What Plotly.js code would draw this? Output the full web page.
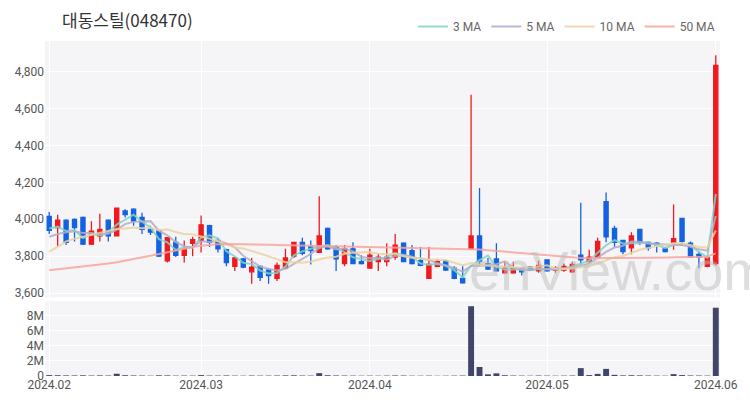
<!DOCTYPE html>
<html>
<head>
<meta charset="utf-8">
<script src="https://cdn.plot.ly/plotly-3.0.1.min.js"></script>
<style>html,body{margin:0;padding:0;background:#fff;}#chart{width:750px;height:400px;}</style>
</head>
<body>
<div id="chart"></div>
<script>
const dates = [
 '2024-02-02','2024-02-05','2024-02-06','2024-02-07','2024-02-08','2024-02-13','2024-02-14','2024-02-15','2024-02-16','2024-02-19',
 '2024-02-20','2024-02-21','2024-02-22','2024-02-23','2024-02-26','2024-02-27','2024-02-28','2024-02-29',
 '2024-03-04','2024-03-05','2024-03-06','2024-03-07','2024-03-08','2024-03-11','2024-03-12','2024-03-13','2024-03-14','2024-03-15',
 '2024-03-18','2024-03-19','2024-03-20','2024-03-21','2024-03-22','2024-03-25','2024-03-26','2024-03-27','2024-03-28','2024-03-29',
 '2024-04-01','2024-04-02','2024-04-03','2024-04-04','2024-04-05','2024-04-08','2024-04-09','2024-04-11','2024-04-12','2024-04-15',
 '2024-04-16','2024-04-17','2024-04-18','2024-04-19','2024-04-22','2024-04-23','2024-04-24','2024-04-25','2024-04-26','2024-04-29','2024-04-30',
 '2024-05-02','2024-05-03','2024-05-07','2024-05-08','2024-05-09','2024-05-10','2024-05-13','2024-05-14','2024-05-16','2024-05-17',
 '2024-05-20','2024-05-21','2024-05-22','2024-05-23','2024-05-24','2024-05-27','2024-05-28','2024-05-29','2024-05-30','2024-05-31',
 '2024-06-03'
];
const openP = [4015,3955,3995,4000,4010,3865,3910,3995,3910,4045,4055,4010,3945,3940,3775,3875,3805,3870,3885,3965,
 3885,3835,3745,3785,3715,3745,3725,3680,3735,3800,3875,3850,3820,3950,3850,3760,3840,3770,3735,3770,
 3770,3795,3870,3830,3775,3680,3745,3775,3735,3680,3840,3910,3760,3785,3710,3710,3735,3740,3720,3780,
 3725,3725,3715,3805,3770,3795,4095,3950,3885,3845,3945,3875,3870,3840,3875,4005,3870,3810,3745,3760];
const highP = [4040,4025,4000,4005,4015,3990,4030,4000,4060,4055,4060,4035,3965,3945,3900,3905,3885,3905,4020,3970,
 3900,3840,3795,3790,3790,3750,3735,3765,3840,3875,3900,3885,4125,3955,3860,3860,3875,3805,3840,3815,
 3870,3920,3875,3860,3850,3850,3785,3780,3745,3745,4675,4170,3790,3870,3770,3770,3740,3745,3775,3780,
 3745,3760,3770,4090,3835,3900,4145,3965,3885,3930,3945,3880,3875,3850,4080,4005,3880,3825,3800,4890];
const lowP = [3920,3855,3860,3880,3860,3860,3880,3880,3910,4010,3965,3920,3915,3795,3765,3795,3765,3800,3820,3850,
 3820,3745,3720,3735,3650,3665,3650,3665,3735,3790,3805,3755,3820,3835,3720,3745,3760,3755,3735,3720,
 3745,3780,3770,3755,3745,3680,3740,3720,3675,3650,3835,3745,3725,3715,3705,3705,3695,3720,3710,3715,
 3710,3715,3710,3755,3765,3790,3875,3850,3810,3810,3860,3830,3820,3820,3835,3855,3790,3735,3740,3750];
const closeP = [3940,3995,3875,3955,3865,3935,3945,3910,4060,4025,3990,3945,3930,3800,3900,3805,3840,3890,3970,3875,
 3840,3765,3790,3740,3740,3685,3695,3750,3790,3875,3815,3830,3910,3840,3785,3840,3760,3760,3805,3795,
 3795,3860,3770,3760,3750,3755,3770,3725,3680,3655,3910,3770,3730,3720,3735,3735,3715,3725,3750,3720,
 3735,3745,3755,3780,3795,3880,3905,3875,3825,3910,3875,3845,3860,3825,3895,3880,3795,3795,3790,4835];
const volume = [120000,100000,80000,70000,90000,60000,80000,60000,300000,100000,70000,60000,40000,90000,80000,50000,60000,50000,120000,60000,
 50000,70000,50000,40000,60000,50000,50000,60000,80000,90000,60000,50000,380000,100000,70000,60000,50000,40000,50000,40000,
 50000,70000,60000,40000,40000,50000,30000,40000,50000,60000,9300000,1200000,220000,350000,100000,60000,50000,40000,60000,50000,
 40000,50000,60000,1050000,120000,280000,950000,150000,80000,100000,80000,60000,50000,40000,250000,120000,70000,60000,50000,9100000];
const ma3 = [3950,3960,3936,3942,3898,3919,3915,3929,3971,3998,4025,3987,3956,3892,3875,3834,3848,3846,3900,3913,
 3896,3827,3798,3764,3757,3722,3706,3709,3744,3804,3826,3840,3852,3860,3845,3822,3794,3786,3774,3785,
 3796,3815,3808,3797,3760,3754,3758,3748,3724,3686,3748,3778,3803,3740,3727,3728,3727,3724,3730,3731,
 3734,3733,3744,3760,3776,3818,3859,3887,3869,3870,3870,3877,3861,3844,3860,3867,3856,3822,3792,4138];
const ma5 = [3905,3920,3930,3935,3926,3925,3915,3922,3943,3974,3986,3986,3990,3938,3913,3876,3854,3847,3881,3877,
 3884,3869,3848,3802,3775,3744,3730,3722,3731,3758,3784,3812,3844,3854,3836,3841,3826,3797,3789,3791,
 3781,3802,3804,3795,3787,3779,3761,3751,3735,3716,3747,3748,3749,3756,3772,3737,3726,3725,3731,3728,
 3728,3734,3741,3747,3761,3791,3823,3847,3856,3879,3878,3867,3863,3863,3861,3861,3851,3837,3830,4018];
const ma10 = [3825,3850,3880,3895,3905,3915,3925,3935,3948,3950,3955,3951,3956,3940,3944,3931,3920,3919,3909,3895,
 3880,3862,3847,3842,3826,3814,3799,3785,3767,3767,3764,3771,3783,3793,3797,3813,3819,3820,3822,3813,
 3811,3814,3800,3792,3789,3780,3781,3778,3765,3751,3763,3754,3750,3746,3744,3742,3737,3737,3744,3750,
 3733,3730,3733,3739,3745,3760,3779,3794,3801,3820,3835,3845,3855,3860,3870,3870,3859,3850,3847,3939];
const ma50 = [3723,3728,3733,3738,3743,3748,3754,3760,3767,3775,3783,3792,3802,3812,3822,3832,3841,3849,3856,3861,
 3864,3866,3866,3865,3864,3863,3862,3861,3860,3859,3858,3857,3857,3856,3855,3854,3853,3852,3851,3850,
 3850,3849,3848,3847,3846,3845,3844,3843,3842,3841,3840,3836,3832,3828,3824,3820,3816,3812,3808,3804,
 3800,3796,3793,3790,3789,3789,3790,3790,3791,3791,3792,3792,3793,3793,3794,3795,3795,3796,3797,3815];
const tickDates = ['2024-02-02','2024-03-04','2024-04-01','2024-05-02','2024-06-03'];
const tickLabels = ['2024.02','2024.03','2024.04','2024.05','2024.06'];
const priceTicks = [3600,3800,4000,4200,4400,4600,4800];
const volTicks = [0,2000000,4000000,6000000,8000000];
const volTickLabels = ['0','2M','4M','6M','8M'];
const maNames = ['3 MA','5 MA','10 MA','50 MA'];
const maColors = ['#7fd4c6','#b4aac8','#ebd29e','#f7a39c'];

const RED = '#f0191e', BLUE = '#1462e2';
const traces = [];
[ma3, ma5, ma10, ma50].forEach((arr, k) => {
  traces.push({type:'scatter', mode:'lines', x:dates, y:arr, name:maNames[k],
    line:{color:maColors[k], width:2}, opacity:0.85, hoverinfo:'skip', xaxis:'x', yaxis:'y'});
});
traces.push({type:'candlestick', x:dates, open:openP, high:highP, low:lowP, close:closeP,
  increasing:{line:{color:RED, width:1.3}, fillcolor:RED},
  decreasing:{line:{color:BLUE, width:1.3}, fillcolor:BLUE},
  whiskerwidth:0, showlegend:false, xaxis:'x', yaxis:'y'});
traces.push({type:'bar', x:dates, y:volume, marker:{color:'#41456b'}, showlegend:false, xaxis:'x', yaxis:'y2'});

const layout = {
  width:750, height:400,
  margin:{l:45, r:30, t:33, b:24},
  paper_bgcolor:'#ffffff', plot_bgcolor:'#f5f5f7',
  font:{family:'Roboto, "Noto Sans CJK KR", sans-serif', size:12, color:'#555'},
  title:{text:'대동스틸(048470)', x:62/750, xref:'container', xanchor:'left', y:1-21/400, yref:'container', yanchor:'middle',
    font:{family:'"Noto Sans CJK KR", sans-serif', size:17, color:'#333'}},
  showlegend:true,
  legend:{orientation:'h', x:1, xanchor:'right', y:1.0, yanchor:'bottom', font:{size:12, color:'#666'}, itemwidth:30, bgcolor:'rgba(0,0,0,0)'},
  bargap:0.3,
  xaxis:{type:'category', anchor:'y2', tickmode:'array', tickvals:tickDates, ticktext:tickLabels,
    showgrid:true, gridcolor:'#ffffff', gridwidth:1, zeroline:false, showline:false, ticks:'',
    rangeslider:{visible:false}, tickfont:{size:12, color:'#555'}},
  yaxis:{domain:[0.235,1], range:[3577,4967], tickmode:'array', tickvals:priceTicks, tickformat:',d',
    showgrid:true, gridcolor:'#ffffff', zeroline:false, ticks:'', tickfont:{size:12, color:'#555'}},
  yaxis2:{domain:[0,0.224], range:[0,10000000], tickmode:'array', tickvals:volTicks, ticktext:volTickLabels,
    showgrid:true, gridcolor:'#ffffff', zeroline:false, ticks:'', tickfont:{size:12, color:'#555'}},
  annotations:[{text:'enView.com', xref:'paper', yref:'paper', x:(467-45)/675, y:0.315, xanchor:'left', yanchor:'middle',
    showarrow:false, font:{family:'"Liberation Sans", Arial, sans-serif', size:56, color:'rgba(190,190,190,0.5)'}}]
};
Plotly.newPlot('chart', traces, layout, {displayModeBar:false, staticPlot:true});
</script>
</body>
</html>
